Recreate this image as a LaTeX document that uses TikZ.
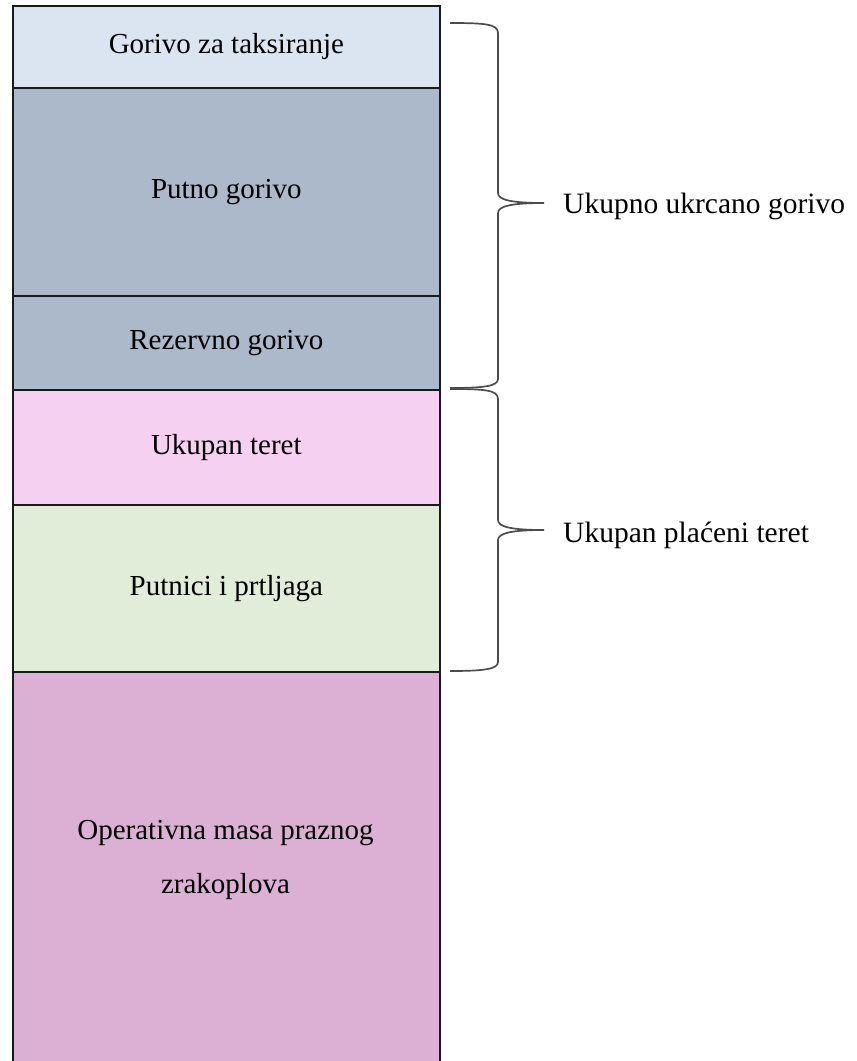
\documentclass[tikz,border=0pt]{standalone}
\usepackage{fontspec}
\setmainfont{Liberation Serif}
\definecolor{cTaxi}{HTML}{DBE5F1}
\definecolor{cFuel}{HTML}{ACB9CA}
\definecolor{cLoad}{HTML}{F5D0F1}
\definecolor{cPax}{HTML}{E1ECD9}
\definecolor{cOew}{HTML}{DCB0D5}
\definecolor{cLine}{HTML}{1A1A1A}
\begin{document}
\begin{tikzpicture}[x=1pt,y=-1pt,
  box/.style={draw=cLine, line width=1.7pt, anchor=north west, inner sep=0pt,
    minimum width=427pt, font=\fontsize{29}{35}\selectfont, align=center},
  lbl/.style={anchor=west, inner sep=0pt, font=\fontsize{29.5}{35}\selectfont},
  brace/.style={draw=black!70, line width=1.7pt}]
\useasboundingbox (0,0) rectangle (857,1061);
\begin{scope}
\clip (0,0) rectangle (857,1061);
\node[box, fill=cOew, minimum height=400pt] (oper) at (12,671) {};
\end{scope}
\node[box, fill=cTaxi, minimum height=82pt] (taxi) at (12,5) {Gorivo za taksiranje};
\node[box, fill=cFuel, minimum height=208pt] (trip) at (12,87) {Putno gorivo};
\node[box, fill=cFuel, minimum height=94pt] (res) at (12,295) {Rezervno gorivo};
\node[box, fill=cLoad, minimum height=115pt] (load) at (12,389) {Ukupan teret};
\node[box, fill=cPax, minimum height=167pt] (pax) at (12,504) {Putnici i prtljaga};
\node[font=\fontsize{29}{54}\selectfont, align=center, inner sep=0pt] (opertxt) at (225.5,860) {Operativna masa praznog\\zrakoplova};
% braces
\draw[brace] (450,23) .. controls (485,23) and (498,24) .. (498,33) -- (498,193)
  .. controls (498,200) and (512,203) .. (544,203)
  .. controls (512,203) and (498,206) .. (498,213) -- (498,379)
  .. controls (498,386) and (485,388) .. (450,388);
\draw[brace] (450,389) .. controls (485,389) and (498,390) .. (498,399) -- (498,520)
  .. controls (498,527) and (512,530) .. (544,530)
  .. controls (512,530) and (498,533) .. (498,540) -- (498,662)
  .. controls (498,669) and (485,671) .. (450,671);
\node[lbl] (fuel) at (563,206) {Ukupno ukrcano gorivo};
\node[lbl] (pay) at (563,535) {Ukupan plaćeni teret};
\end{tikzpicture}
\end{document}
